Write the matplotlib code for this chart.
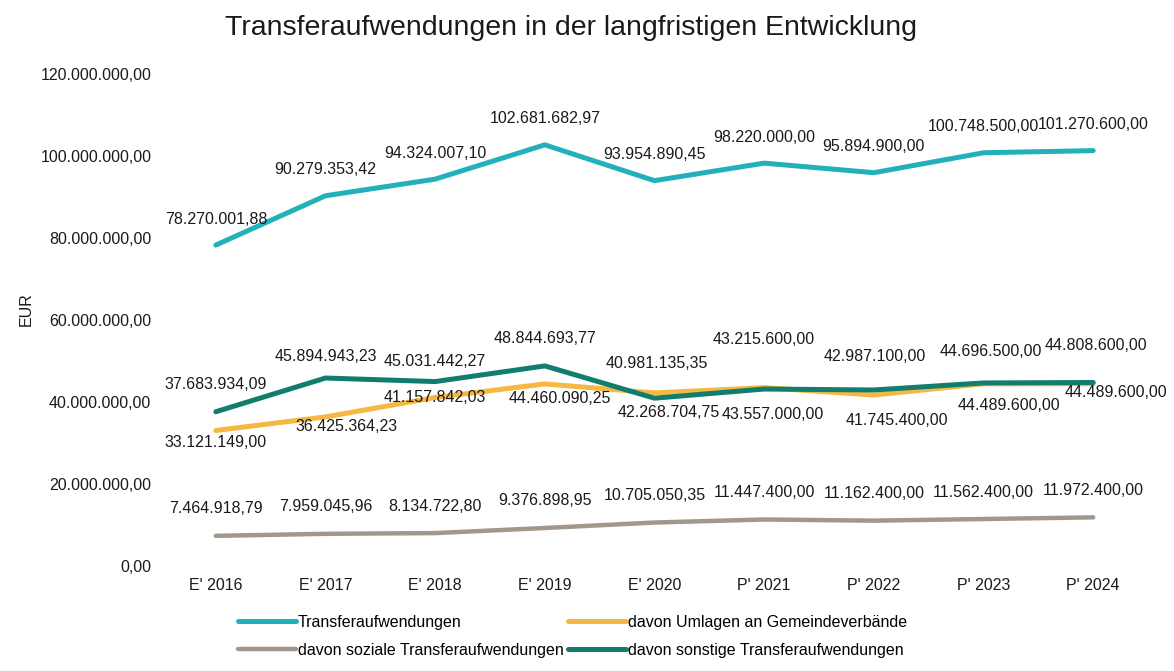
import matplotlib
matplotlib.use("Agg")
import matplotlib.pyplot as plt

plt.rcParams["font.family"] = ["Liberation Sans", "DejaVu Sans"]

# Jahre (E' = Ergebnis, P' = Plan)
jahre = ["E' 2016", "E' 2017", "E' 2018", "E' 2019", "E' 2020",
         "P' 2021", "P' 2022", "P' 2023", "P' 2024"]

transfer = [78270001.88, 90279353.42, 94324007.10, 102681682.97, 93954890.45,
            98220000.00, 95894900.00, 100748500.00, 101270600.00]
umlagen = [33121149.00, 36425364.23, 41157842.03, 44460090.25, 42268704.75,
           43557000.00, 41745400.00, 44489600.00, 44489600.00]
sozial = [7464918.79, 7959045.96, 8134722.80, 9376898.95, 10705050.35,
          11447400.00, 11162400.00, 11562400.00, 11972400.00]
sonstige = [37683934.09, 45894943.23, 45031442.27, 48844693.77, 40981135.35,
            43215600.00, 42987100.00, 44696500.00, 44808600.00]

# Verschiebung der Datenbeschriftungen in Pixeln (dx, dy)
pos_transfer = [(0, 26)] * 9
pos_sozial = [(0, 27)] * 9
pos_sonstige = [(0, 27), (0, 22), (0, 20), (0, 27), (2, 35),
                (0, 50), (1, 33), (7, 31), (3, 37)]
pos_umlagen = [(0, -12), (21, -10), (0, 0), (15, -15), (14, -20),
               (9, -27), (23, -25), (25, -22), (23, -9)]


def de_format(v):
    s = "{:,.2f}".format(v)
    return s.replace(",", "X").replace(".", ",").replace("X", ".")


fig = plt.figure(figsize=(11.74, 6.71), dpi=100)
ax = fig.add_axes([161 / 1174, 1 - 566.5 / 671, 987 / 1174, 492.8 / 671])

x = list(range(len(jahre)))
l_transfer, = ax.plot(x, transfer, color="#22b0ba", lw=3.6,
                      solid_capstyle="round", label="Transferaufwendungen", zorder=3)
l_umlagen, = ax.plot(x, umlagen, color="#f5b842", lw=3.6,
                     solid_capstyle="round", label="davon Umlagen an Gemeindeverbände", zorder=2)
l_sozial, = ax.plot(x, sozial, color="#a3968b", lw=3.2,
                    solid_capstyle="round", label="davon soziale Transferaufwendungen", zorder=2)
l_sonstige, = ax.plot(x, sonstige, color="#117d6e", lw=3.6,
                      solid_capstyle="round", label="davon sonstige Transferaufwendungen", zorder=3)

for werte, pos in [(transfer, pos_transfer), (sozial, pos_sozial),
                   (sonstige, pos_sonstige), (umlagen, pos_umlagen)]:
    for i, v in enumerate(werte):
        ax.annotate(de_format(v), (i, v), xytext=pos[i], textcoords="offset pixels",
                    ha="center", va="center", fontsize=11.5, color="#1a1a1a", zorder=4)

ax.set_xlim(-0.5, len(jahre) - 0.5)
ax.set_ylim(0, 120000000)
ax.set_xticks(x)
ax.set_xticklabels(jahre)
yticks = list(range(0, 120000001, 20000000))
ax.set_yticks(yticks)
ax.set_yticklabels([de_format(t) for t in yticks])
ax.tick_params(axis="both", length=0, labelsize=11.5, colors="#1a1a1a")
ax.tick_params(axis="y", pad=7)
ax.tick_params(axis="x", pad=8)
for sp in ax.spines.values():
    sp.set_visible(False)

fig.text(26 / 1174, 1 - 309 / 671, "EUR", rotation=90, ha="center", va="center",
         fontsize=11.5, color="#1a1a1a")
fig.text(571 / 1174, 1 - 35 / 671, "Transferaufwendungen in der langfristigen Entwicklung",
         ha="center", va="baseline", fontsize=20.5, color="#1a1a1a")

fig.legend(handles=[l_transfer, l_sozial, l_umlagen, l_sonstige], ncol=2,
           loc="upper left", bbox_to_anchor=(238 / 1174, 1 - 615 / 671),
           frameon=False, fontsize=11.5, handlelength=3.6, handletextpad=0.15,
           columnspacing=0.3, borderpad=0, borderaxespad=0, labelspacing=0.8)

fig.savefig("out.png", dpi=100)
